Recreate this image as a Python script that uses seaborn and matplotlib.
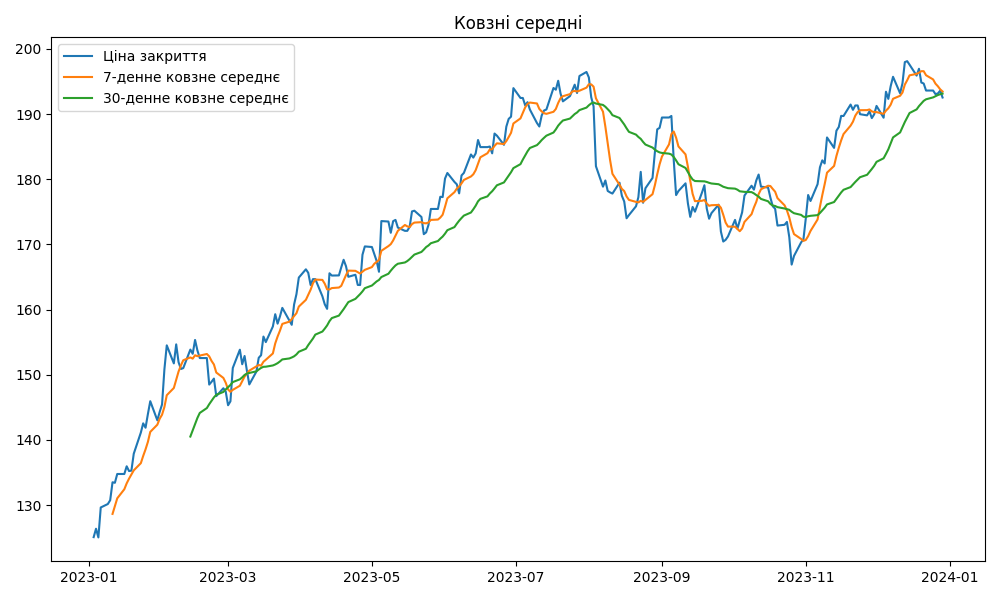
import matplotlib
matplotlib.use("Agg")
import matplotlib.pyplot as plt
import pandas as pd
import seaborn as sns

# Closing prices per business day, month by month.
# Exchange holidays repeat the previous close (flat steps in the line).
close_jan = [125.07, 126.36, 125.02, 129.62, 130.15, 130.73, 133.49, 133.41, 134.76, 134.76,
             135.94, 135.21, 135.27, 137.87, 141.11, 142.53, 141.86, 143.96, 145.93, 143.00,
             144.29]
close_feb = [145.43, 150.82, 154.50, 151.73, 154.65, 151.92, 150.87, 151.01, 153.85, 153.20,
             155.33, 153.71, 152.55, 152.55, 148.48, 148.91, 149.40, 146.71, 147.92, 147.41]
close_mar = [145.31, 145.91, 151.03, 153.83, 151.60, 152.87, 150.59, 148.50, 150.47, 152.59,
             152.99, 155.85, 155.00, 157.40, 159.28, 157.83, 158.93, 160.25, 158.28, 157.65,
             160.77, 162.36, 164.90]
close_apr = [166.17, 165.63, 163.76, 164.66, 164.66, 162.03, 160.80, 160.10, 165.56, 165.21,
             165.23, 166.47, 167.63, 166.65, 165.02, 165.33, 163.77, 163.76, 168.41, 169.68]
close_may = [169.59, 168.54, 167.45, 165.79, 173.57, 173.50, 171.77, 173.56, 173.75, 172.57,
             172.07, 172.07, 172.69, 175.05, 175.16, 174.20, 171.56, 171.84, 172.99, 175.43,
             175.43, 177.30, 177.25]
close_jun = [180.09, 180.95, 179.58, 179.21, 177.82, 180.57, 180.96, 183.79, 183.31, 183.95,
             186.01, 184.92, 184.92, 185.01, 183.96, 187.00, 186.68, 185.27, 188.06, 189.25,
             189.59, 193.97]
close_jul = [192.46, 192.46, 191.33, 191.81, 190.68, 188.61, 188.08, 189.77, 190.54, 190.69,
             193.99, 193.73, 195.10, 193.13, 191.94, 192.75, 193.62, 194.50, 193.22, 195.83,
             196.45]
close_aug = [195.61, 192.58, 191.17, 181.99, 178.85, 179.80, 178.19, 177.97, 177.79, 179.46,
             177.45, 176.57, 174.00, 174.49, 175.84, 177.23, 181.12, 176.38, 178.61, 180.19,
             184.12, 187.65, 187.87]
close_sep = [189.46, 189.46, 189.70, 182.91, 177.56, 178.18, 179.36, 176.30, 174.21, 175.74,
             175.01, 177.97, 179.07, 175.49, 173.93, 174.79, 176.08, 171.96, 170.43, 170.69,
             171.21]
close_oct = [173.75, 172.40, 173.66, 174.91, 177.49, 178.99, 178.39, 179.80, 180.71, 178.85,
             178.72, 177.15, 175.84, 175.46, 172.88, 173.00, 173.44, 171.10, 166.89, 168.22,
             170.29, 170.77]
close_nov = [173.97, 177.57, 176.65, 179.23, 181.82, 182.89, 182.41, 186.40, 184.80, 187.44,
             188.01, 189.71, 189.69, 191.45, 190.64, 191.31, 191.31, 189.97, 189.79, 190.40,
             189.37, 189.95]
close_dec = [191.24, 189.43, 193.42, 192.32, 194.27, 195.71, 193.18, 194.71, 197.96, 198.11,
             197.57, 195.89, 196.94, 194.83, 194.68, 193.60, 193.60, 193.05, 193.15, 193.58,
             192.53]

LABELS = ["Ціна закриття", "7-денне ковзне середнє", "30-денне ковзне середнє"]


def build_frame() -> pd.DataFrame:
    closes = (close_jan + close_feb + close_mar + close_apr + close_may + close_jun
              + close_jul + close_aug + close_sep + close_oct + close_nov + close_dec)
    dates = pd.bdate_range("2023-01-03", "2023-12-29")
    df = pd.DataFrame({"date": dates, "close": closes})
    df["ma7"] = df["close"].rolling(7).mean()
    df["ma30"] = df["close"].rolling(30).mean()
    return df


def main() -> None:
    df = build_frame()

    fig, ax = plt.subplots(figsize=(10, 6), dpi=100)
    sns.lineplot(data=df, x="date", y="close", color="C0", label=LABELS[0], ax=ax)
    sns.lineplot(data=df, x="date", y="ma7", color="C1", label=LABELS[1], ax=ax)
    sns.lineplot(data=df, x="date", y="ma30", color="C2", label=LABELS[2], ax=ax)

    ax.set_title("Ковзні середні")
    ax.set_xlabel("")
    ax.set_ylabel("")
    ax.legend(loc="upper left")

    fig.tight_layout()
    fig.savefig("out.png")
    plt.close(fig)


if __name__ == "__main__":
    main()
